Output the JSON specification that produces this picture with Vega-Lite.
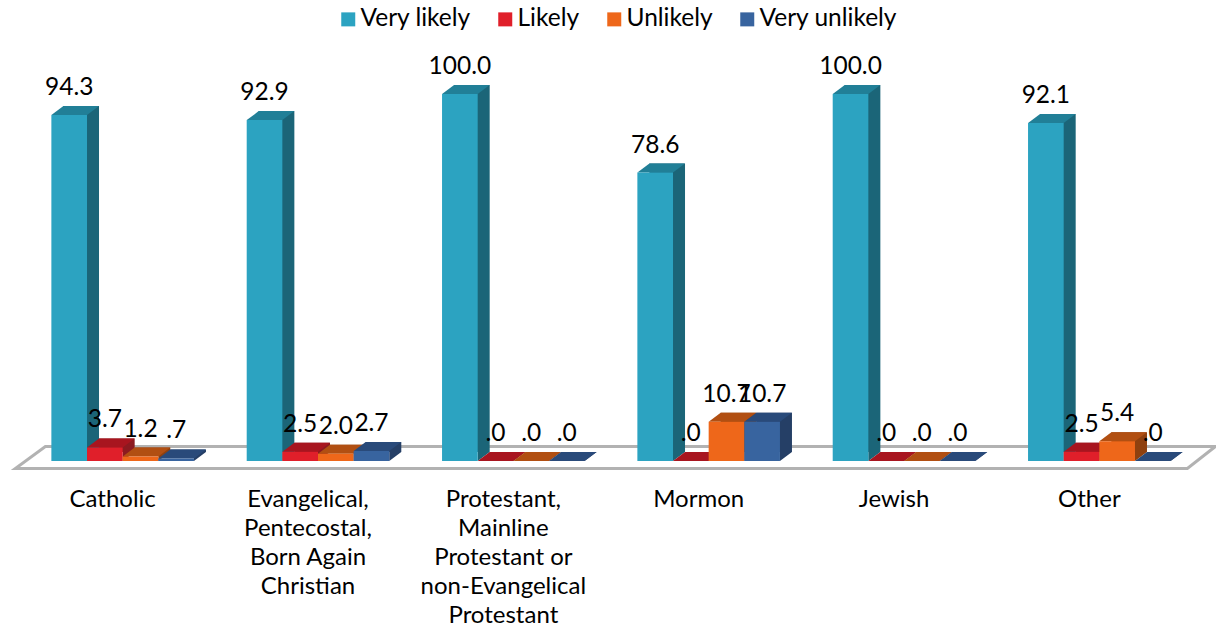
{
"$schema":"https://vega.github.io/schema/vega-lite/v6.json",
"autosize":{"type":"none"},
"width":1172,"height":400,
"padding":{"left":25,"top":61,"right":19,"bottom":166},
"background":"white",
"config":{"view":{"stroke":null},"font":"Lato"},
"datasets":{"d":[
{"religion":"Catholic","series":"Very likely","value":94.3,"label":"94.3"},
{"religion":"Catholic","series":"Likely","value":3.7,"label":"3.7"},
{"religion":"Catholic","series":"Unlikely","value":1.2,"label":"1.2"},
{"religion":"Catholic","series":"Very unlikely","value":0.7,"label":".7"},
{"religion":"Evangelical","series":"Very likely","value":92.9,"label":"92.9"},
{"religion":"Evangelical","series":"Likely","value":2.5,"label":"2.5"},
{"religion":"Evangelical","series":"Unlikely","value":2.0,"label":"2.0"},
{"religion":"Evangelical","series":"Very unlikely","value":2.7,"label":"2.7"},
{"religion":"Protestant","series":"Very likely","value":100,"label":"100.0"},
{"religion":"Protestant","series":"Likely","value":0,"label":".0"},
{"religion":"Protestant","series":"Unlikely","value":0,"label":".0"},
{"religion":"Protestant","series":"Very unlikely","value":0,"label":".0"},
{"religion":"Mormon","series":"Very likely","value":78.6,"label":"78.6"},
{"religion":"Mormon","series":"Likely","value":0,"label":".0"},
{"religion":"Mormon","series":"Unlikely","value":10.7,"label":"10.7"},
{"religion":"Mormon","series":"Very unlikely","value":10.7,"label":"10.7"},
{"religion":"Jewish","series":"Very likely","value":100,"label":"100.0"},
{"religion":"Jewish","series":"Likely","value":0,"label":".0"},
{"religion":"Jewish","series":"Unlikely","value":0,"label":".0"},
{"religion":"Jewish","series":"Very unlikely","value":0,"label":".0"},
{"religion":"Other","series":"Very likely","value":92.1,"label":"92.1"},
{"religion":"Other","series":"Likely","value":2.5,"label":"2.5"},
{"religion":"Other","series":"Unlikely","value":5.4,"label":"5.4"},
{"religion":"Other","series":"Very unlikely","value":0,"label":".0"}
],"floor":[{"religion":"Catholic","value":0}]},
"data":{"name":"d"},
"encoding":{
"x":{"field":"religion","type":"nominal","sort":["Catholic","Evangelical","Protestant","Mormon","Jewish","Other"],
"scale":{"paddingInner":0.27,"paddingOuter":0.135},
"axis":{"title":null,"domain":false,"ticks":false,"labelAngle":0,"labelOffset":-10,"labelPadding":26,"labelFontSize":24,"labelFont":"Lato","labelColor":"#000000","labelLineHeight":29,"labelLimit":400,"labelOverlap":false,"labelBaseline":"top",
"labelExpr":"datum.value=='Evangelical'?['Evangelical,','Pentecostal,','Born Again','Christian']:datum.value=='Protestant'?['Protestant,','Mainline','Protestant or','non-Evangelical','Protestant']:datum.value"}},
"y":{"field":"value","type":"quantitative","scale":{"domain":[0,109],"nice":false},"axis":null},
"xOffset":{"field":"series","type":"nominal","sort":["Very likely","Likely","Unlikely","Very unlikely"]}
},
"layer":[
{"data":{"name":"floor"},
 "mark":{"type":"point","filled":false,"size":4,"stroke":"#929292","strokeWidth":3,"fill":null,"shape":"M-36 7.5L1136 7.5L1164 -14.5L-6 -14.5Z"},
 "encoding":{"xOffset":{"value":0}}},
{"mark":{"type":"bar","yOffset":-9,"y2Offset":-9},
 "encoding":{
 "xOffset":{"field":"series","type":"nominal","sort":["Very likely","Likely","Unlikely","Very unlikely"],"scale":{"range":[12,154.6]}},
 "color":{"field":"series","type":"nominal","legend":null,"scale":{"domain":["Very likely","Likely","Unlikely","Very unlikely"],"range":["#1B6578","#8C1A20","#8F410F","#253F66"]}}}},
{"mark":{"type":"point","filled":true,"opacity":1,"size":4,"strokeWidth":0,"shape":"M17.8 0L29.8 -9L17.8 -9Z"},
 "encoding":{"y":{"datum":0,"type":"quantitative","scale":{"domain":[0,109],"nice":false},"axis":null},"color":{"field":"series","type":"nominal","legend":null,"scale":{"domain":["Very likely","Likely","Unlikely","Very unlikely"],"range":["#1B6578","#8C1A20","#8F410F","#253F66"]}}}},
{"mark":{"type":"point","filled":true,"opacity":1,"size":4,"strokeWidth":0,"shape":"M-17.8 0L-5.8 -9L29.8 -9L17.8 0Z"},
 "encoding":{"color":{"field":"series","type":"nominal","legend":null,"scale":{"domain":["Very likely","Likely","Unlikely","Very unlikely"],"range":["#217F97","#A8151F","#B14F12","#294A7A"]}}}},
{"mark":{"type":"bar"},
 "encoding":{"color":{"field":"series","type":"nominal","sort":["Very likely","Likely","Unlikely","Very unlikely"],"scale":{"domain":["Very likely","Likely","Unlikely","Very unlikely"],"range":["#2CA3C1","#E01F2A","#EE671A","#38649F"]},
 "legend":{"title":null,"orient":"none","legendX":311,"legendY":-54,"direction":"horizontal","symbolType":"square","symbolSize":196,"symbolStrokeWidth":0,"labelFontSize":24.5,"labelFont":"Lato","labelColor":"#000000","columnPadding":22,"labelOffset":0,"symbolOpacity":1}}}},
{"mark":{"type":"text","fontSize":24.5,"font":"Lato","color":"#000000","baseline":"middle","dy":-27},
 "encoding":{"text":{"field":"label","type":"nominal"}}}
],
"resolve":{"scale":{"color":"independent","xOffset":"independent"}}
}
